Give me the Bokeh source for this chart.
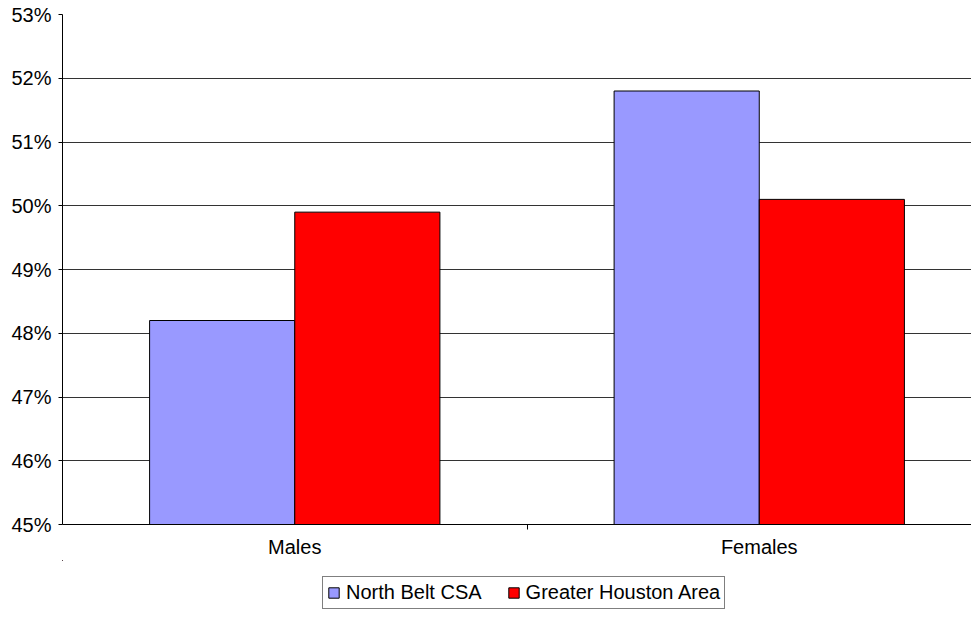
from bokeh.plotting import figure
from bokeh.layouts import column
from bokeh.models import Range1d, FixedTicker, PrintfTickFormatter, Legend, LegendItem, ColumnDataSource
from bokeh.embed import file_html
from bokeh.resources import INLINE

categories = ["Males", "Females"]
north_belt = [48.2, 51.8]
greater_houston = [49.9, 50.1]
series_names = ["North Belt CSA", "Greater Houston Area"]
y_ticks = [45, 46, 47, 48, 49, 50, 51, 52, 53]

FONT = "Liberation Sans"
NB_COLOR = "#9999FF"
GH_COLOR = "#FF0000"
bar_w = 0.3125
centers = [i + 0.5 for i in range(len(categories))]

src_nb = ColumnDataSource(dict(x=[c - bar_w / 2 for c in centers], top=north_belt))
src_gh = ColumnDataSource(dict(x=[c + bar_w / 2 for c in centers], top=greater_houston))

p = figure(width=971, height=560, output_backend="svg", toolbar_location=None,
           x_range=Range1d(0, 909 / 464.5), y_range=Range1d(45, 53),
           min_border_left=62, min_border_right=0, min_border_top=14, min_border_bottom=35)
p.outline_line_color = None
p.background_fill_color = "white"
p.border_fill_color = "white"

p.vbar(x="x", top="top", bottom=45, width=bar_w, source=src_nb,
       fill_color=NB_COLOR, line_color="black", line_width=1)
p.vbar(x="x", top="top", bottom=45, width=bar_w, source=src_gh,
       fill_color=GH_COLOR, line_color="black", line_width=1)

# y axis
p.yaxis.ticker = FixedTicker(ticks=y_ticks)
p.yaxis.formatter = PrintfTickFormatter(format="%d%%")
p.yaxis.major_tick_out = 4
p.yaxis.major_tick_in = 0
p.yaxis.minor_tick_line_color = None
p.yaxis.major_label_standoff = 7
p.yaxis.major_label_text_font = FONT
p.yaxis.major_label_text_font_size = "20px"
p.yaxis.major_label_text_color = "black"
p.yaxis.axis_line_color = "black"
p.yaxis.major_tick_line_color = "black"

# x axis
p.xaxis.ticker = FixedTicker(ticks=centers, minor_ticks=[1.0])
p.xaxis.major_label_overrides = {c: name for c, name in zip(centers, categories)}
p.xaxis.major_tick_line_color = None
p.xaxis.minor_tick_line_color = "black"
p.xaxis.minor_tick_out = 5
p.xaxis.minor_tick_in = 0
p.xaxis.major_label_standoff = 5
p.xaxis.major_label_text_font = FONT
p.xaxis.major_label_text_font_size = "20px"
p.xaxis.major_label_text_color = "black"
p.xaxis.axis_line_color = "black"

p.xgrid.grid_line_color = None
p.ygrid.ticker = FixedTicker(ticks=y_ticks)
p.ygrid.grid_line_color = "#333333"
p.ygrid.grid_line_width = 1

# legend strip: a small figure below holding the legend; its view is far away
# from the bars, so only the legend is visible there
pl = figure(width=971, height=49, output_backend="svg", toolbar_location=None,
            x_range=Range1d(100, 101), y_range=Range1d(0, 1),
            x_axis_location=None, y_axis_location=None,
            min_border_left=62, min_border_right=0, min_border_top=0, min_border_bottom=0)
pl.outline_line_color = None
pl.grid.visible = False
pl.background_fill_color = "white"
pl.border_fill_color = "white"
l1 = pl.vbar(x="x", top="top", bottom=45, width=bar_w, source=src_nb,
             fill_color=NB_COLOR, line_color="black", line_width=1)
l2 = pl.vbar(x="x", top="top", bottom=45, width=bar_w, source=src_gh,
             fill_color=GH_COLOR, line_color="black", line_width=1)

legend = Legend(items=[LegendItem(label=series_names[0], renderers=[l1]),
                       LegendItem(label=series_names[1], renderers=[l2])],
                orientation="horizontal", location=(260, 0))
legend.border_line_color = "black"
legend.border_line_width = 1
legend.background_fill_color = "white"
legend.background_fill_alpha = 1
legend.label_text_font = FONT
legend.label_text_font_size = "20px"
legend.label_text_color = "black"
legend.glyph_width = 13
legend.glyph_height = 13
legend.label_standoff = 6
legend.spacing = 25
legend.padding = 4
legend.margin = 0
pl.add_layout(legend, "center")

layout = column(p, pl, spacing=0)
open("out.html", "w").write(file_html(layout, INLINE))
